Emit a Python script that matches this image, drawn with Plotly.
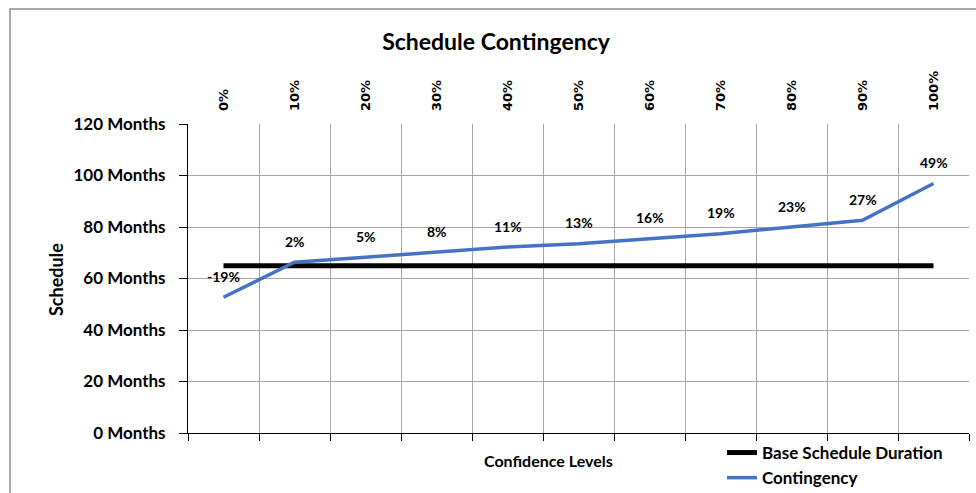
import plotly.graph_objects as go

categories = ["0%", "10%", "20%", "30%", "40%", "50%", "60%", "70%", "80%", "90%", "100%"]
base_duration = [65, 65, 65, 65, 65, 65, 65, 65, 65, 65, 65]
contingency = [52.7, 66.3, 68.3, 70.2, 72.2, 73.5, 75.4, 77.4, 80.0, 82.6, 96.9]
pct_labels = ["-19%", "2%", "5%", "8%", "11%", "13%", "16%", "19%", "23%", "27%", "49%"]
y_ticks = [0, 20, 40, 60, 80, 100, 120]
y_tick_labels = ["0 Months", "20 Months", "40 Months", "60 Months", "80 Months",
                 "100 Months", "120 Months"]

W, H = 976, 493
L, R, T, B = 188, 7, 124, 60
pw, ph = W - L - R, H - T - B

def px_x(p):
    return (p - L) / pw

def px_y(p):
    return (H - B - p) / ph

FONT = "Lato"
fig = go.Figure()
fig.add_trace(go.Scatter(
    x=categories, y=base_duration, mode="lines", name="Base Schedule Duration",
    line=dict(color="#000000", width=5), hoverinfo="skip"))
fig.add_trace(go.Scatter(
    x=categories, y=contingency, mode="lines", name="Contingency",
    line=dict(color="#4472C4", width=3.5), hoverinfo="skip"))

for c, v, t in zip(categories, contingency, pct_labels):
    fig.add_annotation(x=c, y=v, text=t, showarrow=False, yshift=21,
                       font=dict(family=FONT, size=14, color="#000", weight="bold"))

fig.add_annotation(xref="paper", yref="paper", x=px_x(56), y=px_y(280),
                   xanchor="center", yanchor="middle",
                   text="Schedule", textangle=-90, showarrow=False,
                   font=dict(family=FONT, size=18, color="#000", weight="bold"))
fig.add_annotation(xref="paper", yref="paper", x=px_x(548), y=px_y(460),
                   xanchor="center", yanchor="middle",
                   text="Confidence Levels", showarrow=False,
                   font=dict(family=FONT, size=16, color="#000", weight="bold"))

# outer chart frame
fig.add_shape(type="rect", xref="paper", yref="paper",
              x0=px_x(10), x1=px_x(990), y0=px_y(510), y1=px_y(9),
              line=dict(color="#8c8c8c", width=1.5), layer="below")

fig.update_layout(
    width=W, height=H,
    margin=dict(l=L, r=R, t=T, b=B, autoexpand=False),
    paper_bgcolor="white", plot_bgcolor="white",
    title=dict(text="Schedule Contingency", x=496 / W, xanchor="center",
               y=1 - 42 / H, yanchor="middle",
               font=dict(family=FONT, size=23, color="#000", weight="bold")),
    xaxis=dict(type="category", categoryarray=categories, side="top",
               range=[-0.5, 10.5], tickson="boundaries", ticks="",
               showgrid=True, gridcolor="#a6a6a6", gridwidth=1,
               showline=False, zeroline=False, tickangle=-90,
               ticklabelstandoff=12, automargin=False,
               tickfont=dict(family="DejaVu Sans", size=13, color="#000", weight="bold")),
    xaxis2=dict(overlaying="x", side="bottom", anchor="y", range=[-0.5, 10.5],
                tick0=-0.5, dtick=1, ticks="outside", ticklen=7, tickcolor="#000",
                showticklabels=False, showgrid=False, zeroline=False,
                showline=True, linecolor="#000", linewidth=1, automargin=False),
    yaxis=dict(range=[0, 120], tickvals=y_ticks, ticktext=y_tick_labels,
               ticks="outside", ticklen=8, tickcolor="#000",
               showline=True, linecolor="#000", linewidth=1,
               showgrid=True, gridcolor="#a6a6a6", gridwidth=1, zeroline=False,
               ticklabelstandoff=10, automargin=False,
               tickfont=dict(family=FONT, size=17, color="#000", weight="bold")),
    legend=dict(x=px_x(722), y=px_y(435), xanchor="left", yanchor="top",
                bgcolor="rgba(0,0,0,0)", tracegroupgap=0, itemwidth=30,
                font=dict(family=FONT, size=17, color="#000", weight="bold")),
    showlegend=True,
)
# dummy trace so the secondary axis is rendered
fig.add_trace(go.Scatter(x=[None], y=[None], xaxis="x2", showlegend=False, hoverinfo="skip"))

fig.write_html("out.html", config={"displayModeBar": False},
               post_script="document.body.style.margin='0';document.body.style.padding='0';")
